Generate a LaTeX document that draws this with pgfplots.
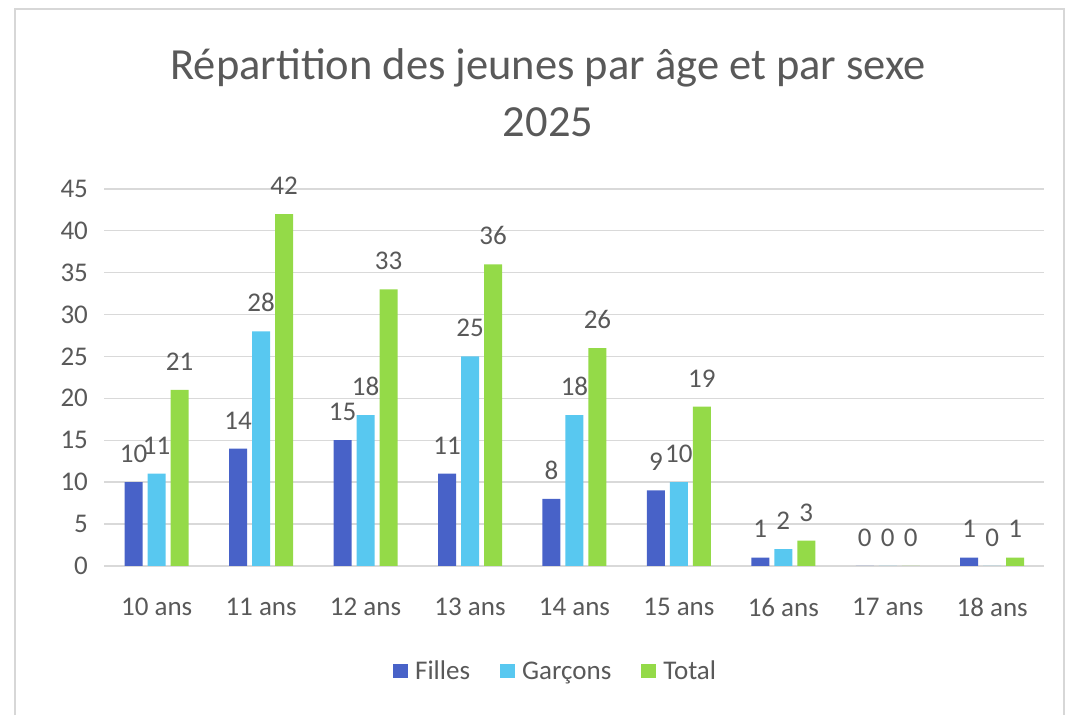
\documentclass[border=0pt]{standalone}
\usepackage{fontspec}
\setmainfont{Carlito}
\usepackage{pgfplots}
\pgfplotsset{compat=1.18}
\definecolor{filles}{RGB}{72,98,200}
\definecolor{garcons}{RGB}{88,200,240}
\definecolor{total}{RGB}{148,218,72}
\definecolor{txt}{RGB}{89,89,89}
\definecolor{gridgray}{RGB}{217,217,217}
\definecolor{framegray}{RGB}{215,215,215}

\begin{document}
\begin{tikzpicture}[x=1pt,y=1pt]
\draw[framegray, line width=2pt] (15,0) -- (15,706) -- (1064,706) -- (1064,0);
\node[text=txt, font=\fontsize{44.5}{57}\selectfont, align=center] at (548,622)
  {Répartition des jeunes par âge et par sexe\\2025};
\begin{axis}[
    at={(100,178)}, anchor=south west,
    scale only axis,
    width=940pt, height=377pt,
    ybar=5pt,
    bar width=18pt,
    xmin=-0.5, xmax=8.5,
    ymin=0, ymax=45,
    xtick={0,...,8},
    xticklabels={10 ans,11 ans,12 ans,13 ans,14 ans,15 ans,16 ans,17 ans,18 ans},
    ytick={0,5,...,45},
    ymajorgrids,
    grid style={color=gridgray, line width=1.3pt},
    axis line style={draw=none},
    major tick length=0pt,
    tick label style={font=\fontsize{27}{30}\selectfont, text=txt},
    /pgf/number format/assume math mode=true,
    xticklabel style={yshift=-29pt},
    yticklabel style={xshift=-13pt},
    clip=false,
    nodes near coords,
    every node near coord/.append style={font=\fontsize{27}{30}\selectfont, text=txt, yshift=16pt},
    legend columns=3,
    legend style={draw=none, fill=none, at={(0.48,-0.279)}, anchor=center,
        font=\fontsize{27}{30}\selectfont, text=txt,
        /tikz/every odd column/.append style={column sep=5pt},
        /tikz/every even column/.append style={column sep=28pt}},
    legend image code/.code={\fill[#1] (0pt,-7pt) rectangle (15pt,7pt);},
]
\addplot[fill=filles, draw=none] coordinates {(0,10) (1,14) (2,15) (3,11) (4,8) (5,9) (6,1) (7,0) (8,1)};
\addplot[fill=garcons, draw=none] coordinates {(0,11) (1,28) (2,18) (3,25) (4,18) (5,10) (6,2) (7,0) (8,0)};
\addplot[fill=total, draw=none] coordinates {(0,21) (1,42) (2,33) (3,36) (4,26) (5,19) (6,3) (7,0) (8,1)};
\legend{Filles, Garçons, Total}
\end{axis}
\pgfresetboundingbox
\path (0,0) rectangle (1075,715);
\end{tikzpicture}
\end{document}
